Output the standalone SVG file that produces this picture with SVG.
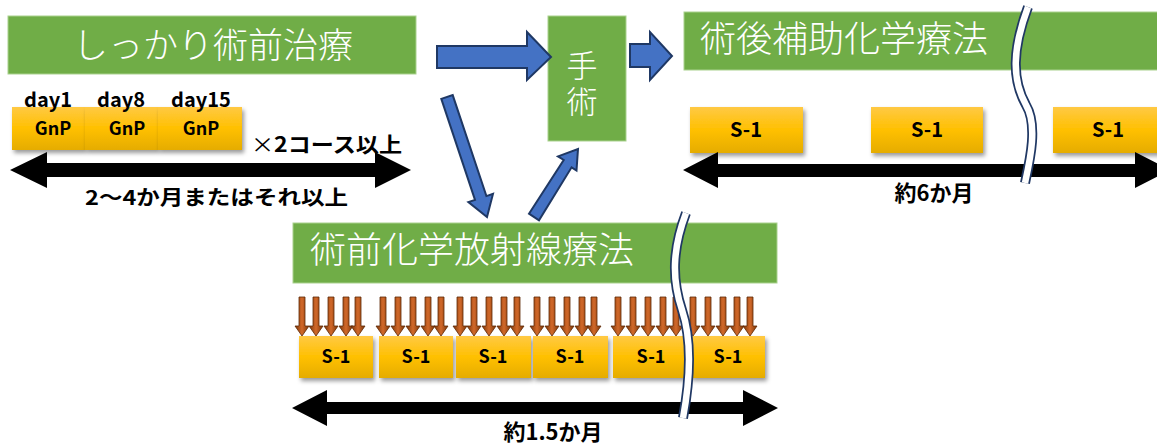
<svg xmlns="http://www.w3.org/2000/svg" xmlns:xlink="http://www.w3.org/1999/xlink" width="1157" height="444" viewBox="0 0 1157 444">
<defs>
<linearGradient id="yel" x1="0" y1="0" x2="0" y2="1">
<stop offset="0" stop-color="#ffc944"/>
<stop offset="0.5" stop-color="#ffc000"/>
<stop offset="1" stop-color="#e5ac00"/>
</linearGradient>
<linearGradient id="brn" x1="0" y1="0" x2="1" y2="0">
<stop offset="0" stop-color="#7a3508"/>
<stop offset="0.5" stop-color="#d2692a"/>
<stop offset="1" stop-color="#7a3508"/>
</linearGradient>
<filter id="sh" x="-10%" y="-20%" width="130%" height="160%">
<feDropShadow dx="2" dy="3" stdDeviation="2" flood-color="#000" flood-opacity="0.4"/>
</filter>
<path id="ba" d="M-3,297 L3,297 L3,326 L7,326 L0,336 L-7,326 L-3,326 Z" fill="url(#brn)" stroke="#5e2906" stroke-width="0.8"/>
<path id="wave1" d="M1028,7 C1012,50 1012,80 1026,105 C1038,125 1030,160 1025,183"/>
<path id="wave2" d="M686,213 C672,250 672,280 682,310 C692,340 690,380 683,418"/>
</defs>
<style>
.green{fill:#70ad47;stroke:#a9d18e;stroke-width:1}
.title{fill:#ffffff;font-family:"Noto Sans CJK JP","Noto Sans",sans-serif;font-weight:300}
.box{fill:url(#yel);filter:url(#sh)}
.lbl{fill:#000;font-family:"Noto Sans CJK JP","Noto Sans",sans-serif;font-weight:bold}
.blue{fill:#4472c4;stroke:#1f3864;stroke-width:2;stroke-linejoin:miter}
.dbl{fill:#000}
.wo{fill:none;stroke:#203864;stroke-width:10}
.wi{fill:none;stroke:#ffffff;stroke-width:6.5}
</style>

<g id="neoadjuvant">
<rect class="green" x="8" y="16" width="408" height="58"/>
<text class="title" x="73" y="58" font-size="35">しっかり術前治療</text>
</g>

<g id="gnp">
<rect class="box" x="12" y="107" width="73" height="43"/>
<rect class="box" x="85" y="107" width="73" height="43"/>
<rect class="box" x="158" y="107" width="84" height="43"/>
<text class="lbl" x="48" y="107" font-size="20" text-anchor="middle">day1</text>
<text class="lbl" x="121" y="107" font-size="20" text-anchor="middle">day8</text>
<text class="lbl" x="201" y="107" font-size="20" text-anchor="middle">day15</text>
<text class="lbl" x="53" y="135" font-size="18" text-anchor="middle">GnP</text>
<text class="lbl" x="127" y="135" font-size="18" text-anchor="middle">GnP</text>
<text class="lbl" x="201" y="135" font-size="18" text-anchor="middle">GnP</text>
<text class="lbl" x="251" y="152" font-size="21" textLength="151" lengthAdjust="spacingAndGlyphs"><tspan font-weight="normal">×</tspan>2コース以上</text>
</g>

<g id="duration-neoadjuvant">
<polygon class="dbl" points="10,170 47,152 47,163 375,163 375,152 411,170 375,188 375,177 47,177 47,188"/>
<text class="lbl" x="85" y="205" font-size="20" textLength="263" lengthAdjust="spacingAndGlyphs">2〜4か月またはそれ以上</text>
</g>

<g id="surgery">
<rect class="green" x="548" y="16" width="78" height="125"/>
<text class="title" font-size="31" text-anchor="middle"><tspan x="582" y="77">手</tspan><tspan x="582" y="113">術</tspan></text>
</g>

<g id="adjuvant">
<rect class="green" x="684" y="12" width="480" height="58"/>
<text class="title" x="700" y="52" font-size="36">術後補助化学療法</text>
<rect class="box" x="690" y="107" width="113" height="46"/>
<rect class="box" x="871" y="107" width="112" height="46"/>
<rect class="box" x="1053" y="107" width="112" height="46"/>
<text class="lbl" x="746" y="137" font-size="20" text-anchor="middle">S-1</text>
<text class="lbl" x="927" y="137" font-size="20" text-anchor="middle">S-1</text>
<text class="lbl" x="1108" y="137" font-size="20" text-anchor="middle">S-1</text>
<polygon class="dbl" points="683,170 718,152 718,164 1135,164 1135,152 1170,170 1135,188 1135,177 718,177 718,188"/>
<text class="lbl" x="934" y="201" font-size="22" text-anchor="middle">約6か月</text>
<use xlink:href="#wave1" class="wo"/>
<use xlink:href="#wave1" class="wi"/>
</g>

<g id="chemoradiation">
<rect class="green" x="293" y="223" width="484" height="60"/>
<text class="title" x="310" y="263" font-size="36">術前化学放射線療法</text>
<g id="radiation">
<use xlink:href="#ba" x="302"/><use xlink:href="#ba" x="316"/><use xlink:href="#ba" x="331"/><use xlink:href="#ba" x="346"/><use xlink:href="#ba" x="358"/>
<use xlink:href="#ba" x="383"/><use xlink:href="#ba" x="398"/><use xlink:href="#ba" x="413"/><use xlink:href="#ba" x="428"/><use xlink:href="#ba" x="441"/>
<use xlink:href="#ba" x="460"/><use xlink:href="#ba" x="474"/><use xlink:href="#ba" x="489"/><use xlink:href="#ba" x="504"/><use xlink:href="#ba" x="517"/>
<use xlink:href="#ba" x="537"/><use xlink:href="#ba" x="552"/><use xlink:href="#ba" x="567"/><use xlink:href="#ba" x="582"/><use xlink:href="#ba" x="594"/>
<use xlink:href="#ba" x="618"/><use xlink:href="#ba" x="633"/><use xlink:href="#ba" x="648"/><use xlink:href="#ba" x="663"/><use xlink:href="#ba" x="676"/>
<use xlink:href="#ba" x="693"/><use xlink:href="#ba" x="708"/><use xlink:href="#ba" x="723"/><use xlink:href="#ba" x="737"/><use xlink:href="#ba" x="750"/>
</g>
<rect class="box" x="299" y="336" width="74" height="42"/>
<rect class="box" x="379" y="336" width="74" height="42"/>
<rect class="box" x="456" y="336" width="75" height="42"/>
<rect class="box" x="533" y="336" width="75" height="42"/>
<rect class="box" x="613" y="336" width="77" height="42"/>
<rect class="box" x="691" y="336" width="74" height="42"/>
<text class="lbl" x="336" y="363" font-size="18" text-anchor="middle">S-1</text>
<text class="lbl" x="416" y="363" font-size="18" text-anchor="middle">S-1</text>
<text class="lbl" x="493" y="363" font-size="18" text-anchor="middle">S-1</text>
<text class="lbl" x="570" y="363" font-size="18" text-anchor="middle">S-1</text>
<text class="lbl" x="651" y="363" font-size="18" text-anchor="middle">S-1</text>
<text class="lbl" x="728" y="363" font-size="18" text-anchor="middle">S-1</text>
<polygon class="dbl" points="292,408 327,390 327,402 743,402 743,390 778,408 743,426 743,414 327,414 327,426"/>
<text class="lbl" x="553" y="440" font-size="22" text-anchor="middle">約1.5か月</text>
<use xlink:href="#wave2" class="wo"/>
<use xlink:href="#wave2" class="wi"/>
</g>

<g id="connectors">
<polygon class="blue" points="437,46 527,46 527,32 551,57 527,80 527,68 437,68"/>
<polygon class="blue" points="630,44 650,44 650,32 672,56 650,80 650,67 630,67"/>
<polygon class="blue" points="441.3,98.9 452.7,95.1 486.4,196.1 493,193.9 487,217 468.4,202.1 475,199.9"/>
<polygon class="blue" points="529,213.7 563.7,160 558,156.4 578,149 576.5,170.5 571.6,167.3 539,220.3"/>
</g>
</svg>
